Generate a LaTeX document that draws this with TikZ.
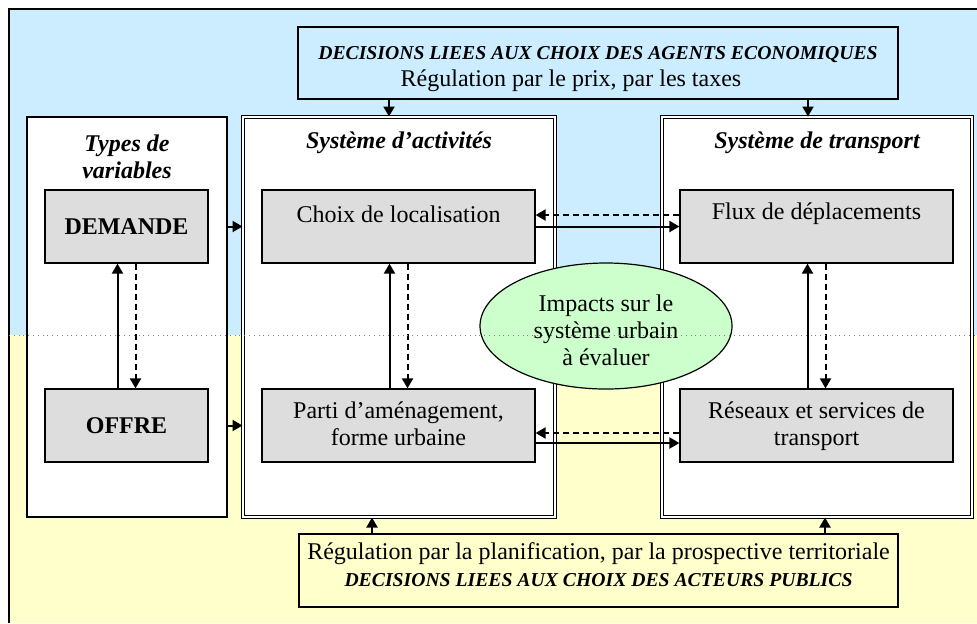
\documentclass[tikz,border=0pt]{standalone}
\usepackage{fontspec}
\setmainfont{Liberation Serif}
\usepackage{tikz}
\usetikzlibrary{shapes.geometric,arrows.meta,positioning}
\definecolor{bleuciel}{RGB}{204,236,255}
\definecolor{jaunepale}{RGB}{255,255,204}
\definecolor{grisclair}{RGB}{221,221,221}
\definecolor{vertpale}{RGB}{204,255,204}
\newcommand{\police}{\fontsize{12pt}{13.5pt}\selectfont}
\newcommand{\decision}[1]{{\fontsize{9.85pt}{13.5pt}\selectfont\bfseries\itshape #1}}
\tikzstyle{cadre}      =[rectangle, draw=black, fill=white, line width=0.6pt,
                         minimum height=200pt, inner sep=0pt]
\tikzstyle{cadredouble}=[cadre, double=white, double distance=0.8pt, line width=0.5pt]
\tikzstyle{grise}      =[rectangle, draw=black, fill=grisclair, line width=0.6pt,
                         minimum width=136.5pt, minimum height=36.5pt, inner sep=0pt]
\tikzstyle{bandeau}    =[rectangle, draw=black, line width=0.6pt, inner sep=0pt]
\tikzstyle{impact}     =[ellipse, draw=black, fill=vertpale, line width=0.6pt,
                         minimum width=126pt, minimum height=63pt, inner sep=0pt]
\tikzstyle{titre}      =[font=\police\bfseries\itshape, align=center]
\tikzstyle{fleche}     =[->, line width=1pt, >={Triangle[length=5pt,width=5.5pt]}]
\tikzstyle{retour}     =[fleche, dash pattern=on 3pt off 2pt]

\begin{document}
\begin{tikzpicture}[x=0.5pt, y=-0.5pt, every node/.style={font=\police}]
  \useasboundingbox (0,0) rectangle (977,623);

  % ── fond ───────────────────────────────────────────────────────────────────
  \fill[bleuciel]  (9,9)   rectangle (977,335);
  \fill[jaunepale] (9,335) rectangle (977,623);
  \draw[line width=0.8pt] (9,623) -- (9,9) -- (977,9);

  % ── bandeaux de décision ───────────────────────────────────────────────────
  \node[bandeau, fill=bleuciel, minimum width=300pt, minimum height=36pt] (haut) at (598,63) {};
  \node[align=center] (hauttxt) at (598,69)
    {\decision{DECISIONS LIEES AUX CHOIX DES AGENTS ECONOMIQUES}\\
     Régulation par le prix, par les taxes\hspace*{27pt}};
  \node[bandeau, fill=jaunepale, minimum width=299.5pt, minimum height=36.5pt] (bas) at (598.5,570.5) {};
  \node[align=center] (bastxt) at (598.5,565)
    {Régulation par la planification, par la prospective territoriale\\
     \decision{DECISIONS LIEES AUX CHOIX DES ACTEURS PUBLICS}};

  % ── cadres ─────────────────────────────────────────────────────────────────
  \node[cadre, minimum width=100pt]       (types)     at (127,317) {};
  \node[cadredouble, minimum width=156pt] (activites) at (399,317) {};
  \node[cadredouble, minimum width=155pt] (transport) at (817,317) {};
  \node[titre] (typestxt)     at (127,157) {Types de\\variables};
  \node[titre] (activitestxt) at (399,143) {Système d'activités};
  \node[titre] (transporttxt) at (817,143) {Système de transport};

  % ── boîtes grises ──────────────────────────────────────────────────────────
  \node[grise, minimum width=81.5pt] (demande) at (126.5,226.5) {\textbf{DEMANDE}};
  \node[grise, minimum width=81.5pt] (offre)   at (126.5,425.5) {\textbf{OFFRE}};
  \node[grise] (choix)   at (398.5,226.5) {};
  \node[grise] (parti)   at (398.5,425.5) {};
  \node[grise] (flux)    at (816.5,226.5) {};
  \node[grise] (reseaux) at (816.5,425.5) {};
  \node              (choixtxt)   at (398.5,214) {Choix de localisation};
  \node[align=center] (partitxt)  at (398.5,424) {Parti d'aménagement,\\forme urbaine};
  \node              (fluxtxt)    at (816.5,214) {Flux de déplacements};
  \node[align=center] (reseauxtxt) at (816.5,426) {Réseaux et services de\\transport};

  % ── liens ──────────────────────────────────────────────────────────────────
  \draw[fleche] (389,0 |- haut.south) -- (389,0 |- activites.north);
  \draw[fleche] (808,0 |- haut.south) -- (808,0 |- transport.north);
  \draw[fleche] (372,0 |- bas.north)  -- (372,0 |- activites.south);
  \draw[fleche] (825,0 |- bas.north)  -- (825,0 |- transport.south);

  \draw[fleche] (types.east |- demande) -- (activites.west |- demande);
  \draw[fleche] (types.east |- offre)   -- (activites.west |- offre);

  \draw[fleche] ([xshift=-4.5pt]offre.north)   -- ([xshift=-4.5pt]demande.south);
  \draw[retour] ([xshift=4.5pt]demande.south)  -- ([xshift=4.5pt]offre.north);
  \draw[fleche] ([xshift=-4.5pt]parti.north)   -- ([xshift=-4.5pt]choix.south);
  \draw[retour] ([xshift=4.5pt]choix.south)    -- ([xshift=4.5pt]parti.north);
  \draw[fleche] ([xshift=-4.5pt]reseaux.north) -- ([xshift=-4.5pt]flux.south);
  \draw[retour] ([xshift=4.5pt]flux.south)     -- ([xshift=4.5pt]reseaux.north);

  \draw[retour] ([yshift=5.75pt]flux.west)      -- ([yshift=5.75pt]choix.east);
  \draw[fleche] (choix.east)                    -- (flux.west);
  \draw[retour] ([yshift=-3.75pt]reseaux.west)  -- ([yshift=-3.75pt]parti.east);
  \draw[fleche] ([yshift=-8.75pt]parti.east)    -- ([yshift=-8.75pt]reseaux.west);

  % ── impacts ────────────────────────────────────────────────────────────────
  \node[impact] (impacts) at (606,326) {};
  \node[align=center] (impactstxt) at (606,330) {Impacts sur le\\système urbain\\à évaluer};

  % ── limite pointillée ──────────────────────────────────────────────────────
  \draw[gray, dotted, line width=0.4pt] (9,335) -- (977,335);

\end{tikzpicture}
\end{document}
